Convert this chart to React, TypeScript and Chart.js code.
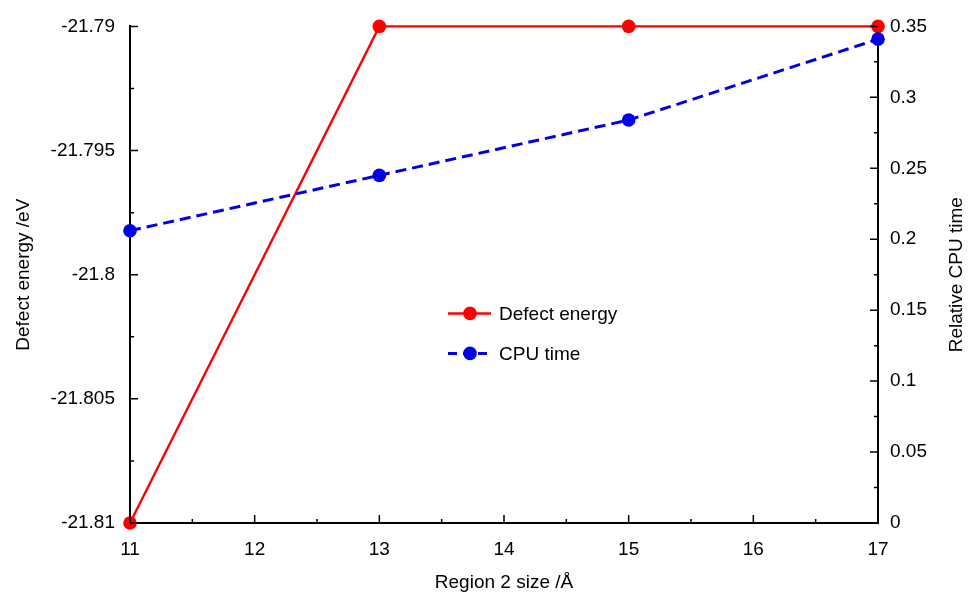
import React, { useEffect, useRef } from "react";
import { Chart, registerables } from "chart.js";

Chart.register(...registerables);

const regionSizes = [11, 13, 15, 17];
const defectEnergy = [-21.81, -21.79, -21.79, -21.79];
const cpuTime = [0.206, 0.245, 0.284, 0.341];

const xTicks = [11, 12, 13, 14, 15, 16, 17];
const xMinorTicks = [11.5, 12.5, 13.5, 14.5, 15.5, 16.5];
const energyTicks = [-21.81, -21.805, -21.8, -21.795, -21.79];
const energyMinorTicks = [-21.8075, -21.8025, -21.7975, -21.7925];
const cpuTicks = [0, 0.05, 0.1, 0.15, 0.2, 0.25, 0.3, 0.35];
const cpuMinorTicks = [0.025, 0.075, 0.125, 0.175, 0.225, 0.275, 0.325];

const seriesNames = ["Defect energy", "CPU time"];
const xTitle = "Region 2 size /Å";
const yTitle = "Defect energy /eV";
const y1Title = "Relative CPU time";

const FONT = "'Liberation Sans', Arial, sans-serif";
const RED = "rgb(255,0,0)";
const BLUE = "rgb(0,0,230)";
const BLUE_DASH = [11, 6];

const fmt = (v: number) => String(+v.toFixed(4));

const inwardTicks = {
  id: "inwardTicks",
  afterDraw(chart: any) {
    const { ctx, chartArea } = chart;
    const x = chart.scales.x;
    const y = chart.scales.y;
    const y1 = chart.scales.y1;
    ctx.save();
    ctx.strokeStyle = "#000";
    ctx.lineWidth = 1.5;
    const MAJ = 8;
    const MIN = 4;
    ctx.beginPath();
    xTicks.forEach((v) => {
      const px = x.getPixelForValue(v);
      ctx.moveTo(px, chartArea.bottom);
      ctx.lineTo(px, chartArea.bottom - MAJ);
    });
    xMinorTicks.forEach((v) => {
      const px = x.getPixelForValue(v);
      ctx.moveTo(px, chartArea.bottom);
      ctx.lineTo(px, chartArea.bottom - MIN);
    });
    energyTicks.forEach((v) => {
      const py = y.getPixelForValue(v);
      ctx.moveTo(chartArea.left, py);
      ctx.lineTo(chartArea.left + MAJ, py);
    });
    energyMinorTicks.forEach((v) => {
      const py = y.getPixelForValue(v);
      ctx.moveTo(chartArea.left, py);
      ctx.lineTo(chartArea.left + MIN, py);
    });
    cpuTicks.forEach((v) => {
      const py = y1.getPixelForValue(v);
      ctx.moveTo(chartArea.right, py);
      ctx.lineTo(chartArea.right - MAJ, py);
    });
    cpuMinorTicks.forEach((v) => {
      const py = y1.getPixelForValue(v);
      ctx.moveTo(chartArea.right, py);
      ctx.lineTo(chartArea.right - MIN, py);
    });
    ctx.stroke();

    // right axis title, reading bottom-to-top
    ctx.save();
    ctx.translate(chart.width - 11, (chartArea.top + chartArea.bottom) / 2);
    ctx.rotate(-Math.PI / 2);
    ctx.fillStyle = "#000";
    ctx.font = `19px ${FONT}`;
    ctx.textAlign = "center";
    ctx.textBaseline = "middle";
    ctx.fillText(y1Title, 0, 0);
    ctx.restore();
    ctx.restore();
  },
};

const innerLegend = {
  id: "innerLegend",
  afterDraw(chart: any) {
    const { ctx, chartArea } = chart;
    const x0 = chartArea.left + 318;
    const y0 = chartArea.top + 287;
    const rowGap = 40;
    const items = [
      { label: seriesNames[0], color: RED, dash: [] as number[], w: 2.5 },
      { label: seriesNames[1], color: BLUE, dash: [9, 6], w: 3 },
    ];
    ctx.save();
    items.forEach((it, i) => {
      const yy = y0 + i * rowGap;
      ctx.strokeStyle = it.color;
      ctx.lineWidth = it.w;
      ctx.setLineDash(it.dash);
      ctx.beginPath();
      ctx.moveTo(x0, yy);
      ctx.lineTo(x0 + 43, yy);
      ctx.stroke();
      ctx.setLineDash([]);
      ctx.fillStyle = it.color;
      ctx.beginPath();
      ctx.arc(x0 + 22, yy, 6.8, 0, Math.PI * 2);
      ctx.fill();
      ctx.fillStyle = "#000";
      ctx.font = `19px ${FONT}`;
      ctx.textBaseline = "middle";
      ctx.textAlign = "left";
      ctx.fillText(it.label, x0 + 51, yy + 1);
    });
    ctx.restore();
  },
};

export default function App() {
  const ref = useRef<HTMLCanvasElement | null>(null);
  useEffect(() => {
    if (!ref.current) return;
    const tickFont = { family: FONT, size: 19 };
    const chart = new Chart(ref.current, {
      type: "line",
      data: {
        datasets: [
          {
            label: seriesNames[1],
            data: regionSizes.map((x, i) => ({ x, y: cpuTime[i] })),
            yAxisID: "y1",
            borderColor: BLUE,
            backgroundColor: BLUE,
            borderWidth: 3,
            borderDash: BLUE_DASH,
            pointRadius: 6.8,
            pointBorderWidth: 0,
            pointBackgroundColor: BLUE,
            clip: false as any,
            order: 0,
          },
          {
            label: seriesNames[0],
            data: regionSizes.map((x, i) => ({ x, y: defectEnergy[i] })),
            yAxisID: "y",
            borderColor: RED,
            backgroundColor: RED,
            borderWidth: 2.4,
            pointRadius: 6.8,
            pointBorderWidth: 0,
            pointBackgroundColor: RED,
            clip: false as any,
            order: 1,
          },
        ],
      },
      options: {
        responsive: false,
        animation: false,
        layout: { padding: { top: 25, left: 0, right: 0, bottom: 0 } },
        plugins: { legend: { display: false }, tooltip: { enabled: false } },
        scales: {
          x: {
            type: "linear",
            min: 11,
            max: 17,
            grid: { display: false, drawTicks: false },
            border: { display: true, color: "#000", width: 2 },
            afterBuildTicks: (s: any) => {
              s.ticks = xTicks.map((v) => ({ value: v }));
            },
            afterFit: (s: any) => {
              s.height = 72;
            },
            ticks: { color: "#000", font: tickFont, padding: 15, maxRotation: 0, callback: (v: any) => fmt(+v) },
            title: { display: true, text: xTitle, color: "#000", font: tickFont, padding: { top: 0, bottom: 1 } },
          },
          y: {
            type: "linear",
            position: "left",
            min: -21.81,
            max: -21.79,
            grid: { display: false, drawTicks: false },
            border: { display: true, color: "#000", width: 2 },
            afterBuildTicks: (s: any) => {
              s.ticks = energyTicks.map((v) => ({ value: v }));
            },
            afterFit: (s: any) => {
              s.width = 130;
            },
            ticks: { color: "#000", font: tickFont, padding: 15, callback: (v: any) => fmt(+v) },
            title: { display: true, text: yTitle, color: "#000", font: tickFont, padding: { top: 12, bottom: 0 } },
          },
          y1: {
            type: "linear",
            position: "right",
            min: 0,
            max: 0.35,
            grid: { display: false, drawTicks: false },
            border: { display: true, color: "#000", width: 2 },
            afterBuildTicks: (s: any) => {
              s.ticks = cpuTicks.map((v) => ({ value: v }));
            },
            afterFit: (s: any) => {
              s.width = 90;
            },
            ticks: { color: "#000", font: tickFont, padding: 12, callback: (v: any) => fmt(+v) },
            title: { display: false },
          },
        },
      },
      plugins: [inwardTicks, innerLegend],
    } as any);
    return () => chart.destroy();
  }, []);
  return (
    <div style={{ position: "fixed", left: 0, top: 0, width: 968, height: 595, background: "#fff" }}>
      <canvas ref={ref} width={968} height={595} />
    </div>
  );
}
